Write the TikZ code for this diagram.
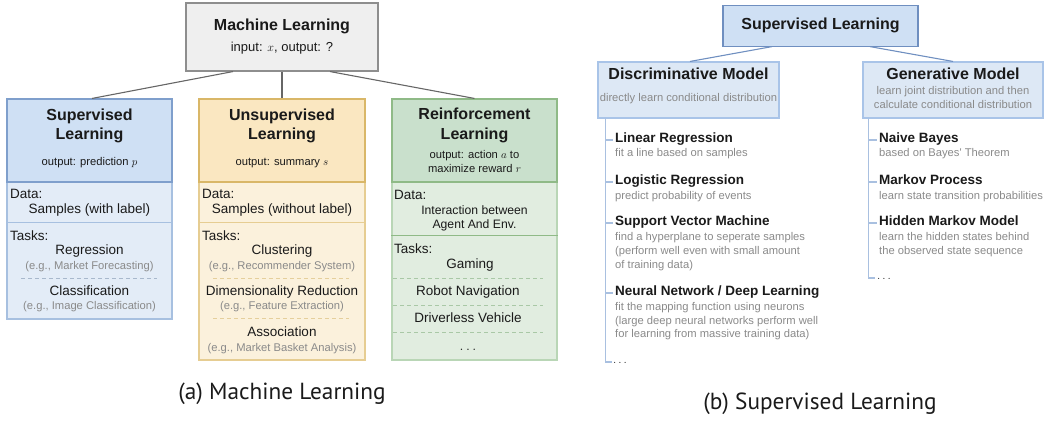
\documentclass[tikz,border=0pt]{standalone}
\usepackage{fontspec}
\newfontfamily\arialf{Liberation Sans}
\newfontfamily\capf{PT Sans}
\usetikzlibrary{calc}
\definecolor{txt}{HTML}{1A1A1A}
\definecolor{gtxt}{HTML}{8A8A8A}
\definecolor{mlfill}{HTML}{EFEFEF}
\definecolor{mlbd}{HTML}{8E8E8E}
\definecolor{conn}{HTML}{666666}
\definecolor{bhf}{HTML}{CFE0F4}
\definecolor{bhd}{HTML}{7F9FCC}
\definecolor{bbf}{HTML}{E3ECF7}
\definecolor{bbd}{HTML}{A7C0E0}
\definecolor{bdash}{HTML}{A8B8CC}
\definecolor{yhf}{HTML}{FAE7C1}
\definecolor{yhd}{HTML}{D9B768}
\definecolor{ybf}{HTML}{FBF1DC}
\definecolor{ybd}{HTML}{E6CD92}
\definecolor{ydash}{HTML}{E5CF9C}
\definecolor{ghf}{HTML}{C9E0CC}
\definecolor{ghd}{HTML}{8FBA87}
\definecolor{gbf}{HTML}{E1EDE0}
\definecolor{gbd}{HTML}{B9D6B6}
\definecolor{gdash}{HTML}{A9C8A6}
\definecolor{slf}{HTML}{CFE0F4}
\definecolor{sld}{HTML}{6F8FC0}
\definecolor{dmf}{HTML}{DDE8F5}
\definecolor{dmd}{HTML}{A9C4E8}
\definecolor{treec}{HTML}{A9C0E0}
\begin{document}
\begin{tikzpicture}[x=1pt,y=-1pt,
  box/.style={rectangle, inner sep=0pt, line width=1.1pt},
  tt/.style={inner sep=0pt, anchor=mid, text=txt},
  hb/.style={tt, font=\arialf\bfseries\fontsize{16}{19}\selectfont},
  ib/.style={tt, anchor=mid west, font=\arialf\bfseries\fontsize{13.5}{16}\selectfont},
  nm/.style={tt, font=\arialf\fontsize{13.5}{16}\selectfont},
  nmm/.style={tt, font=\arialf\fontsize{12.2}{14}\selectfont},
  sm/.style={tt, font=\arialf\fontsize{11.2}{13}\selectfont},
  gs/.style={sm, text=gtxt},
  gl/.style={gs, anchor=mid west},
  captxt/.style={tt, font=\capf\fontsize{23.3}{26}\selectfont},
  tdash/.style={dashed, dash pattern=on 4pt off 3pt, line width=0.8pt},
  tree/.style={draw=treec, line width=1.2pt},
]
\useasboundingbox (0,0) rectangle (1049,423);

% ---------------- (a) Machine Learning ----------------
\node[box, draw=mlbd, fill=mlfill, minimum width=192pt, minimum height=68pt] (ml) at (282,37) {};
\node[hb] (mlt) at (282,28) {Machine Learning};
\node[nm, font=\arialf\fontsize{13}{15}\selectfont] (mls) at (282,49) {input: $x$, output: ?};

% Supervised
\node[box, draw=bbd, fill=bbf, minimum width=165pt, minimum height=137pt] (supb) at (89.5,250.5) {};
\node[box, draw=bhd, fill=bhf, minimum width=165pt, minimum height=83pt] (sup) at (89.5,140.5) {};
\draw[bbd, line width=1.1pt] ($(supb.north west)+(0,41)$) -- ($(supb.north east)+(0,41)$);
\node[hb] (supt1) at (89.5,118) {Supervised};
\node[hb] (supt2) at (89.5,137) {Learning};
\node[sm] (supo) at (89.5,163) {output: prediction $p$};
\node[nm, anchor=mid west] (supd) at (10,196) {Data:};
\node[nm] (supdv) at (89.5,211) {Samples (with label)};
\node[nm, anchor=mid west] (supk) at (10,238) {Tasks:};
\node[nm] (supk1) at (89.5,252) {Regression};
\node[gs] (supk1e) at (89.5,267) {(e.g., Market Forecasting)};
\draw[tdash, bdash] (21,278) -- (157,278);
\node[nm] (supk2) at (89.5,293) {Classification};
\node[gs] (supk2e) at (89.5,307) {(e.g., Image Classification)};

% Unsupervised
\node[box, draw=ybd, fill=ybf, minimum width=166pt, minimum height=178pt] (unsb) at (282,271) {};
\node[box, draw=yhd, fill=yhf, minimum width=166pt, minimum height=83pt] (uns) at (282,140.5) {};
\draw[ybd, line width=1.1pt] ($(unsb.north west)+(0,41)$) -- ($(unsb.north east)+(0,41)$);
\node[hb] (unst1) at (282,118) {Unsupervised};
\node[hb] (unst2) at (282,137) {Learning};
\node[sm] (unso) at (282,163) {output: summary $s$};
\node[nm, anchor=mid west] (unsd) at (202,196) {Data:};
\node[nm] (unsdv) at (282,211) {Samples (without label)};
\node[nm, anchor=mid west] (unsk) at (202,238) {Tasks:};
\node[nm] (unsk1) at (282,252) {Clustering};
\node[gs] (unsk1e) at (282,267) {(e.g., Recommender System)};
\draw[tdash, ydash] (213,278) -- (349,278);
\node[nm] (unsk2) at (282,293) {Dimensionality Reduction};
\node[gs] (unsk2e) at (282,307) {(e.g., Feature Extraction)};
\draw[tdash, ydash] (213,318) -- (349,318);
\node[nm] (unsk3) at (282,334) {Association};
\node[gs] (unsk3e) at (282,349) {(e.g., Market Basket Analysis)};

% Reinforcement
\node[box, draw=gbd, fill=gbf, minimum width=165pt, minimum height=178pt] (rlb) at (474.5,271) {};
\node[box, draw=ghd, fill=ghf, minimum width=165pt, minimum height=83pt] (rl) at (474.5,140.5) {};
\draw[ghd, line width=1.1pt] ($(rlb.north west)+(0,54)$) -- ($(rlb.north east)+(0,54)$);
\node[hb] (rlt1) at (474.5,117) {Reinforcement};
\node[hb] (rlt2) at (474.5,137) {Learning};
\node[sm] (rlo1) at (474.5,156) {output: action $a$ to};
\node[sm] (rlo2) at (474.5,170) {maximize reward $r$};
\node[nm, anchor=mid west] (rld) at (394,197) {Data:};
\node[nmm] (rldv1) at (474.5,212) {Interaction between};
\node[nmm] (rldv2) at (474.5,226) {Agent And Env.};
\node[nm, anchor=mid west] (rlk) at (394,251) {Tasks:};
\node[nm] (rlk1) at (470,266) {Gaming};
\draw[tdash, gdash] (393,278) -- (543,278);
\node[nm] (rlk2) at (468,293) {Robot Navigation};
\draw[tdash, gdash] (393,305) -- (543,305);
\node[nm] (rlk3) at (468,320) {Driverless Vehicle};
\draw[tdash, gdash] (393,332) -- (543,332);
\node[nm, anchor=base] (rlk4) at (468,350) {$\ldots$};

% connectors
\draw[conn, line width=1.1pt] ([xshift=-49pt]ml.south) -- ([xshift=2.5pt]sup.north);
\draw[conn, line width=1.1pt] (ml.south) -- (uns.north);
\draw[conn, line width=1.1pt] ([xshift=48pt]ml.south) -- (rl.north);

\node[captxt] (capa) at (282,397) {(a) Machine Learning};

% ---------------- (b) Supervised Learning ----------------
\node[box, draw=sld, fill=slf, minimum width=195pt, minimum height=41pt, hb] (sl) at (820.5,27.5) {Supervised Learning};
\node[box, draw=dmd, fill=dmf, minimum width=181pt, minimum height=56pt] (disc) at (688.5,90) {};
\node[box, draw=dmd, fill=dmf, minimum width=180pt, minimum height=56pt] (gen) at (953,90) {};
\draw[sld, line width=1.1pt] ([xshift=-48.5pt]sl.south) -- ([xshift=1.5pt]disc.north);
\draw[sld, line width=1.1pt] ([xshift=49.5pt]sl.south) -- (gen.north);

\node[hb] (disct) at (688.5,77) {Discriminative Model};
\node[gs] (discs) at (688.5,99) {directly learn conditional distribution};
\node[hb] (gent) at (953,77) {Generative Model};
\node[gs] (gens1) at (953,92) {learn joint distribution and then};
\node[gs] (gens2) at (953,106) {calculate conditional distribution};

% discriminative tree
\coordinate (dend) at (612,362);
\draw[tree] ([xshift=8pt]disc.south west) |- (dend);
\node[ib] (d1) at (615,140) {Linear Regression};
\node[gl] (d1s) at (615,154) {fit a line based on samples};
\node[ib] (d2) at (615,182) {Logistic Regression};
\node[gl] (d2s) at (615,197) {predict probability of events};
\node[ib] (d3) at (615,223) {Support Vector Machine};
\node[gl] (d3s1) at (615,238) {find a hyperplane to seperate samples};
\node[gl] (d3s2) at (615,252) {(perform well even with small amount};
\node[gl] (d3s3) at (615,266) {of training data)};
\node[ib] (d4) at (615,293) {Neural Network / Deep Learning};
\node[gl] (d4s1) at (615,308) {fit the mapping function using neurons};
\node[gl] (d4s2) at (615,322) {(large deep neural networks perform well};
\node[gl] (d4s3) at (615,335) {for learning from massive training data)};
\node[nm, anchor=base west, font=\arialf\fontsize{12}{14}\selectfont] (d5) at (613,363.5) {$\ldots$};
\foreach \n in {d1,d2,d3,d4}
  \draw[tree] (\n.mid west -| dend) ++(-6,0) -- ([xshift=-2pt]\n.mid west);

% generative tree
\coordinate (gend) at (875,278);
\draw[tree] ([xshift=6pt]gen.south west) |- (gend);
\node[ib] (g1) at (879,140) {Naive Bayes};
\node[gl] (g1s) at (879,154) {based on Bayes' Theorem};
\node[ib] (g2) at (879,182) {Markov Process};
\node[gl] (g2s) at (879,197) {learn state transition probabilities};
\node[ib] (g3) at (879,223) {Hidden Markov Model};
\node[gl] (g3s1) at (879,238) {learn the hidden states behind};
\node[gl] (g3s2) at (879,252) {the observed state sequence};
\node[nm, anchor=base west, font=\arialf\fontsize{12}{14}\selectfont] (g4) at (877,279.5) {$\ldots$};
\foreach \n in {g1,g2,g3}
  \draw[tree] (\n.mid west -| gend) ++(-6,0) -- ([xshift=-2pt]\n.mid west);

\node[captxt] (capb) at (820,407) {(b) Supervised Learning};
\end{tikzpicture}
\end{document}
